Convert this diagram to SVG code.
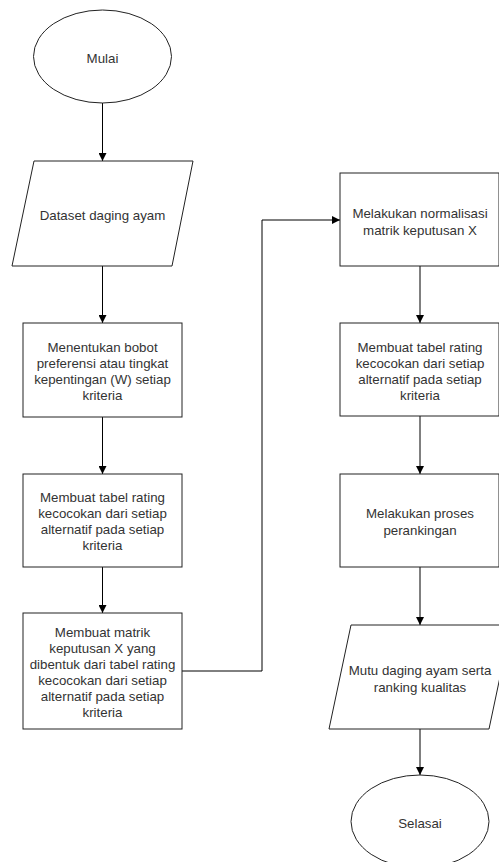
<svg xmlns="http://www.w3.org/2000/svg" width="499" height="862" viewBox="0 0 499 862">
<defs>
<style>
.s{fill:#fff;stroke:#222;stroke-width:1}
.t{font-family:"Liberation Sans",Arial,sans-serif;font-size:13.3px;fill:#333;text-anchor:middle}
.c{fill:none;stroke:#000;stroke-width:1}
</style>
<marker id="ah" viewBox="0 0 10 10" refX="10" refY="5" markerWidth="8" markerHeight="8" markerUnits="userSpaceOnUse" orient="auto">
<path d="M0,0 L10,5 L0,10 z" fill="#000"/>
</marker>
</defs>
<rect width="499" height="862" fill="#fff"/>
<g id="connectors">
<line class="c" x1="102.5" y1="103" x2="102.5" y2="161" marker-end="url(#ah)"/>
<line class="c" x1="102.5" y1="266" x2="102.5" y2="323" marker-end="url(#ah)"/>
<line class="c" x1="102.5" y1="417" x2="102.5" y2="474" marker-end="url(#ah)"/>
<line class="c" x1="102.5" y1="567" x2="102.5" y2="613" marker-end="url(#ah)"/>
<polyline class="c" points="182,671 262,671 262,220 340,220" marker-end="url(#ah)"/>
<line class="c" x1="420" y1="266" x2="420" y2="323" marker-end="url(#ah)"/>
<line class="c" x1="420" y1="416" x2="420" y2="474" marker-end="url(#ah)"/>
<line class="c" x1="420" y1="567" x2="420" y2="625" marker-end="url(#ah)"/>
<line class="c" x1="420" y1="729" x2="420" y2="775" marker-end="url(#ah)"/>
</g>
<g id="mulai">
<ellipse class="s" cx="102.5" cy="56.5" rx="69" ry="46.5"/>
<text class="t" x="102.5" y="63">Mulai</text>
</g>
<g id="dataset">
<polygon class="s" points="34,161 193,161 172,266 12,266"/>
<text class="t" x="102.5" y="220">Dataset daging ayam</text>
</g>
<g id="bobot">
<rect class="s" x="23" y="323" width="159" height="94"/>
<text class="t" x="102.5" y="352">Menentukan bobot</text>
<text class="t" x="102.5" y="368">preferensi atau tingkat</text>
<text class="t" x="102.5" y="384">kepentingan (W) setiap</text>
<text class="t" x="102.5" y="400">kriteria</text>
</g>
<g id="rating1">
<rect class="s" x="23" y="474" width="159" height="93"/>
<text class="t" x="102.5" y="502">Membuat tabel rating</text>
<text class="t" x="102.5" y="518">kecocokan dari setiap</text>
<text class="t" x="102.5" y="534">alternatif pada setiap</text>
<text class="t" x="102.5" y="550">kriteria</text>
</g>
<g id="matrik">
<rect class="s" x="23" y="613" width="159" height="116"/>
<text class="t" x="102.5" y="637">Membuat matrik</text>
<text class="t" x="102.5" y="653">keputusan X yang</text>
<text class="t" x="102.5" y="669">dibentuk dari tabel rating</text>
<text class="t" x="102.5" y="685">kecocokan dari setiap</text>
<text class="t" x="102.5" y="701">alternatif pada setiap</text>
<text class="t" x="102.5" y="717">kriteria</text>
</g>
<g id="normalisasi">
<rect class="s" x="340" y="173" width="159" height="93"/>
<text class="t" x="420" y="218">Melakukan normalisasi</text>
<text class="t" x="420" y="235">matrik keputusan X</text>
</g>
<g id="rating2">
<rect class="s" x="340" y="323" width="159" height="93"/>
<text class="t" x="420" y="352">Membuat tabel rating</text>
<text class="t" x="420" y="368">kecocokan dari setiap</text>
<text class="t" x="420" y="384">alternatif pada setiap</text>
<text class="t" x="420" y="400">kriteria</text>
</g>
<g id="ranking">
<rect class="s" x="340" y="474" width="159" height="93"/>
<text class="t" x="420" y="518">Melakukan proses</text>
<text class="t" x="420" y="535">perankingan</text>
</g>
<g id="mutu">
<polygon class="s" points="351,625 511,625 489,729 329,729"/>
<text class="t" x="420" y="675">Mutu daging ayam serta</text>
<text class="t" x="420" y="692">ranking kualitas</text>
</g>
<g id="selasai">
<ellipse class="s" cx="420" cy="821.5" rx="69" ry="46.5"/>
<text class="t" x="420" y="828">Selasai</text>
</g>
</svg>
